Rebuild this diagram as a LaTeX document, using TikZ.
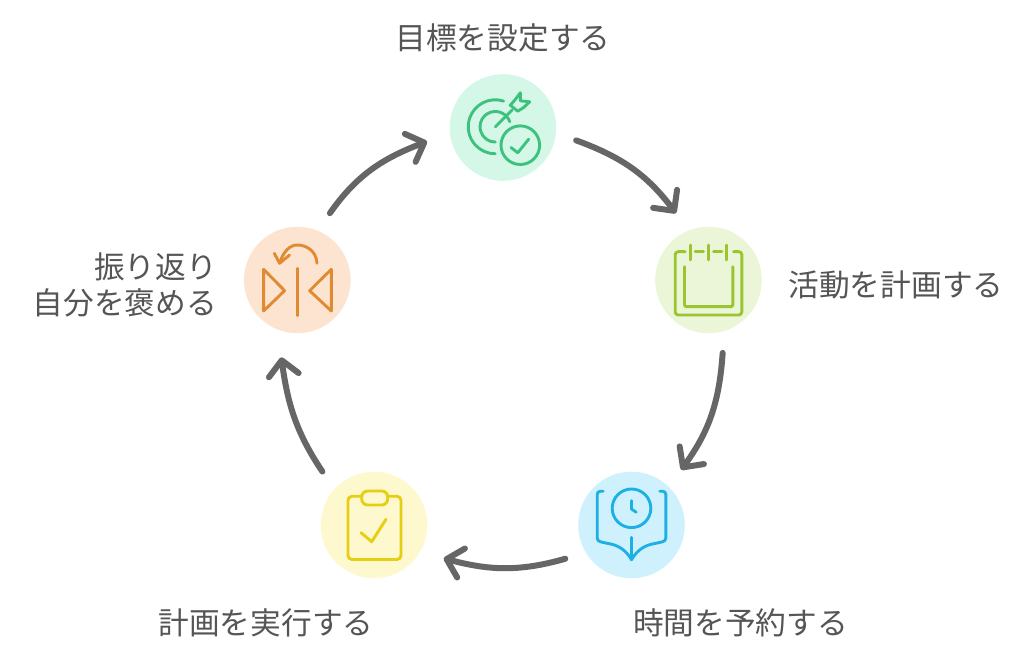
\documentclass[tikz,border=0pt]{standalone}
\usepackage{fontspec}
\newfontfamily\jpfont{Noto Sans CJK JP}
\usetikzlibrary{arrows.meta}
\definecolor{goalfill}{HTML}{D4F7E7}
\definecolor{goalline}{HTML}{3DC27E}
\definecolor{planfill}{HTML}{EAF6D7}
\definecolor{planline}{HTML}{9BC52E}
\definecolor{bookfill}{HTML}{CFF1FD}
\definecolor{bookline}{HTML}{1DB0E5}
\definecolor{dofill}{HTML}{FEF8CF}
\definecolor{doline}{HTML}{E6CE12}
\definecolor{backfill}{HTML}{FDE4D0}
\definecolor{backline}{HTML}{E08A32}
\definecolor{flowgray}{HTML}{666666}
\definecolor{textgray}{HTML}{555555}
\tikzset{
  ring/.style={circle,inner sep=0pt,outer sep=21pt,minimum size=106.6pt},
  icon/.style={line width=2.9pt,line cap=round,line join=round},
  flow/.style={draw=flowgray,line width=6pt,line cap=round,
    -{Straight Barb[round,length=15pt,width=30pt,line width=6pt]}},
  caption/.style={text=textgray,font=\jpfont\fontsize{30.7}{36.5}\selectfont,inner sep=0pt,align=right},
}
\begin{document}
\begin{tikzpicture}[x=1pt,y=1pt]
  \useasboundingbox (0,0) rectangle (1024,658);

  \node[ring,fill=goalfill] (goal) at (503,530.5) {};
  \node[ring,fill=planfill] (plan) at (708.5,378) {};
  \node[ring,fill=bookfill] (book) at (631.5,133) {};
  \node[ring,fill=dofill] (do) at (374,133) {};
  \node[ring,fill=backfill] (back) at (297.3,378) {};

  \node[caption] (goaltext) at (503,620) {目標を設定する};
  \node[caption] (plantext) at (896,373) {活動を計画する};
  \node[caption] (booktext) at (740.5,35) {時間を予約する};
  \node[caption] (dotext) at (266,35) {計画を実行する};
  \node[caption,anchor=east] (backtext) at (217,373) {振り返り\\自分を褒める};

  \draw[flow] (goal.-10.6) to[out=-20,in=127] (plan.116);
  \draw[flow] (plan.-79) to[out=-94,in=54] (book.48);
  \draw[flow,shorten >=3pt] (book.207) to[out=196,in=-15] (do.-26);
  \draw[flow,shorten >=5pt] (do.134) to[out=124,in=278] (back.-103);
  \draw[flow,shorten >=3pt] (back.64) to[out=55,in=201] (goal.190);

  % target with tick
  \begin{scope}[shift={(goal.center)},icon,draw=goalline]
    \draw (0.6,26.4) arc[start angle=72,end angle=270,radius=27];
    \draw (6.8,5.7) arc[start angle=19,end angle=270,radius=15.3];
    \draw (-7.7,0.7) -- (9,17.3);
    \draw (7.3,22.3) -- (12.3,28) -- (17.3,34.7) -- (17.3,26.7) -- (26.7,25.7) -- (20.7,20) -- (14.7,16.3) -- cycle;
    \draw (17.3,-17.7) circle[radius=19.3];
    \draw (8,-20) -- (14.7,-25.3) -- (25.7,-11.7);
  \end{scope}

  % calendar
  \begin{scope}[shift={(plan.center)},icon,draw=planline]
    \draw[rounded corners=3pt] (-23.3,28.3) -- (-33.3,28.3) -- (-33.3,-35) -- (33.3,-35) -- (33.3,28.3) -- (25,28.3);
    \draw[rounded corners=2pt] (-24,13.3) -- (-24,-26.7) -- (24.3,-26.7) -- (24.3,13.3);
    \foreach \tickx in {-18.3,0,18.3}
      \draw (\tickx,35) -- (\tickx,20);
    \draw (-13.3,28.3) -- (-5,28.3);
    \draw (5,28.3) -- (13.3,28.3);
  \end{scope}

  % open book with clock
  \begin{scope}[shift={(book.center)},icon,draw=bookline]
    \draw (0,16.7) circle[radius=19.3];
    \draw (0,24.3) -- (0,16) -- (4.7,12.7);
    \draw (0,-12.3) -- (0,-34.7);
    \draw[rounded corners=3pt] (-28.3,33.7) -- (-34.3,33.7) -- (-34.3,-16) -- (-26,-18) to[out=-10,in=120] (0,-34.7);
    \draw[rounded corners=3pt] (28.3,33.7) -- (34.3,33.7) -- (34.3,-16) -- (26,-18) to[out=190,in=60] (0,-34.7);
  \end{scope}

  % clipboard
  \begin{scope}[shift={(do.center)},icon,draw=doline]
    \draw[rounded corners=4pt] (-12.5,28.7) -- (-26,28.7) -- (-26,-34.5) -- (27,-34.5) -- (27,28.7) -- (13.7,28.7);
    \draw[rounded corners=6pt] (-12.3,20) rectangle (13.7,34);
    \draw (-13,-7.7) -- (-2.3,-16.7) -- (12,5.7);
  \end{scope}

  % mirror
  \begin{scope}[shift={(back.center)},icon,draw=backline]
    \draw (-33.7,10.7) -- (-12.7,-10.7) -- (-33.7,-31) -- cycle;
    \draw (34,10.7) -- (12.3,-10.7) -- (34,-31) -- cycle;
    \draw (0,11.7) -- (0,-35.7);
    \draw (19.7,16.7) .. controls (19,30) and (8,35) .. (0,35) .. controls (-8,35) and (-14,28) .. (-17.7,17);
    \draw (-23,26.7) -- (-17.7,16.7) -- (-7.7,25);
  \end{scope}
\end{tikzpicture}
\end{document}
